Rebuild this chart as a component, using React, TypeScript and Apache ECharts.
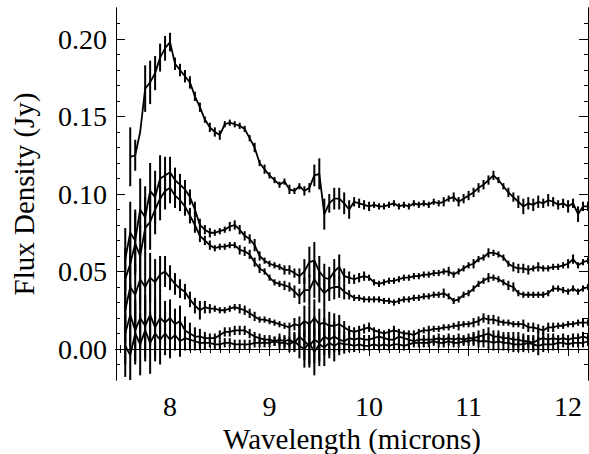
import React, { useEffect, useRef } from "react";
import * as echarts from "echarts";

// Wavelength grid (microns)
const WAVE = [
  7.55, 7.6, 7.65, 7.7, 7.75, 7.8, 7.85, 7.9, 7.95, 8.0,
  8.05, 8.1, 8.15, 8.2, 8.25, 8.3, 8.35, 8.4, 8.45, 8.5,
  8.55, 8.6, 8.65, 8.7, 8.75, 8.8, 8.85, 8.9, 8.95, 9.0,
  9.05, 9.1, 9.15, 9.2, 9.25, 9.3, 9.35, 9.4, 9.45, 9.5,
  9.55, 9.6, 9.65, 9.7, 9.75, 9.8, 9.85, 9.9, 9.95, 10.0,
  10.05, 10.1, 10.15, 10.2, 10.25, 10.3, 10.35, 10.4, 10.45, 10.5,
  10.55, 10.6, 10.65, 10.7, 10.75, 10.8, 10.85, 10.9, 10.95, 11.0,
  11.05, 11.1, 11.15, 11.2, 11.25, 11.3, 11.35, 11.4, 11.45, 11.5,
  11.55, 11.6, 11.65, 11.7, 11.75, 11.8, 11.85, 11.9, 11.95, 12.0,
  12.05, 12.1, 12.15, 12.2,
];

// Top spectrum
const FLUX_A = [
  null, 0.124, 0.125, 0.140, 0.168, 0.172, 0.178, 0.188, 0.194, 0.198,
  0.184, 0.180, 0.176, 0.172, 0.163, 0.156, 0.148, 0.143, 0.140, 0.138,
  0.145, 0.146, 0.145, 0.144, 0.142, 0.136, 0.130, 0.120, 0.116, 0.112,
  0.109, 0.106, 0.108, 0.103, 0.102, 0.105, 0.102, 0.104, 0.112, 0.113,
  0.087, 0.094, 0.097, 0.097, 0.094, 0.090, 0.095, 0.094, 0.093, 0.092,
  0.093, 0.092, 0.092, 0.093, 0.094, 0.092, 0.093, 0.092, 0.094, 0.093,
  0.094, 0.093, 0.095, 0.094, 0.095, 0.097, 0.098, 0.095, 0.097, 0.099,
  0.101, 0.104, 0.106, 0.109, 0.112, 0.109, 0.105, 0.101, 0.098, 0.095,
  0.092, 0.094, 0.093, 0.095, 0.094, 0.096, 0.095, 0.093, 0.094, 0.092,
  0.094, 0.087, 0.092, 0.092,
];
const ERR_A = [
  0, 0.019, 0.010, 0, 0.015, 0.014, 0.011, 0.009, 0.008, 0.006,
  0.004, 0.004, 0.004, 0.004, 0.003, 0.003, 0.002, 0.003, 0.003, 0.003,
  0.002, 0.002, 0.002, 0.002, 0.002, 0.002, 0.003, 0.002, 0.003, 0.002,
  0.002, 0.002, 0.002, 0.003, 0.002, 0.002, 0.003, 0.003, 0.007, 0.010,
  0.010, 0.006, 0.007, 0.007, 0.007, 0.006, 0.003, 0.003, 0.003, 0.003,
  0.002, 0.002, 0.002, 0.002, 0.002, 0.002, 0.002, 0.002, 0.002, 0.002,
  0.002, 0.002, 0.002, 0.002, 0.003, 0.002, 0.003, 0.003, 0.003, 0.003,
  0.003, 0.003, 0.003, 0.003, 0.003, 0.002, 0.002, 0.003, 0.003, 0.004,
  0.005, 0.004, 0.004, 0.004, 0.003, 0.004, 0.003, 0.003, 0.003, 0.004,
  0.003, 0.005, 0.003, 0.003,
];

const FLUX_B = [
  0.058, 0.075, 0.070, 0.090, 0.085, 0.102, 0.098, 0.110, 0.112, 0.114,
  0.109, 0.106, 0.103, 0.098, 0.090, 0.080, 0.077, 0.075, 0.075, 0.076,
  0.077, 0.079, 0.080, 0.077, 0.073, 0.071, 0.067, 0.060, 0.057, 0.055,
  0.054, 0.053, 0.051, 0.051, 0.049, 0.047, 0.050, 0.056, 0.057, 0.050,
  0.046, 0.045, 0.050, 0.053, 0.047, 0.046, 0.045, 0.046, 0.047, 0.046,
  0.043, 0.042, 0.043, 0.044, 0.044, 0.045, 0.046, 0.046, 0.047, 0.047,
  0.048, 0.048, 0.049, 0.049, 0.050, 0.050, 0.048, 0.050, 0.052, 0.054,
  0.055, 0.058, 0.059, 0.062, 0.062, 0.061, 0.059, 0.055, 0.053, 0.052,
  0.052, 0.051, 0.052, 0.053, 0.052, 0.052, 0.053, 0.053, 0.054, 0.055,
  0.058, 0.054, 0.056, 0.057,
];
const ERR_B = [
  0.020, 0.020, 0.020, 0.020, 0.020, 0.018, 0.017, 0.015, 0.012, 0.010,
  0.008, 0.007, 0.006, 0.005, 0.005, 0.004, 0.003, 0.003, 0.002, 0.002,
  0.002, 0.003, 0.003, 0.003, 0.003, 0.003, 0.004, 0.003, 0.002, 0.002,
  0.002, 0.002, 0.003, 0.003, 0.003, 0.005, 0.008, 0.010, 0.012, 0.010,
  0.009, 0.008, 0.008, 0.008, 0.005, 0.004, 0.003, 0.003, 0.003, 0.002,
  0.002, 0.002, 0.002, 0.002, 0.002, 0.002, 0.002, 0.002, 0.002, 0.002,
  0.002, 0.002, 0.002, 0.002, 0.002, 0.003, 0.002, 0.002, 0.002, 0.002,
  0.003, 0.002, 0.002, 0.003, 0.002, 0.002, 0.002, 0.002, 0.003, 0.003,
  0.003, 0.003, 0.002, 0.003, 0.002, 0.002, 0.002, 0.002, 0.002, 0.003,
  0.003, 0.002, 0.002, 0.002,
];

const FLUX_C = [
  0.045, 0.055, 0.068, 0.060, 0.078, 0.082, 0.090, 0.097, 0.102, 0.104,
  0.099, 0.096, 0.092, 0.086, 0.080, 0.073, 0.070, 0.067, 0.065, 0.066,
  0.066, 0.067, 0.067, 0.064, 0.063, 0.061, 0.056, 0.052, 0.050, 0.046,
  0.043, 0.042, 0.041, 0.040, 0.037, 0.034, 0.038, 0.038, 0.045, 0.040,
  0.036, 0.039, 0.040, 0.040, 0.037, 0.035, 0.033, 0.033, 0.032, 0.032,
  0.032, 0.032, 0.031, 0.031, 0.030, 0.031, 0.032, 0.032, 0.033, 0.033,
  0.034, 0.034, 0.035, 0.035, 0.036, 0.034, 0.031, 0.032, 0.035, 0.036,
  0.039, 0.042, 0.044, 0.046, 0.046, 0.045, 0.043, 0.041, 0.040, 0.036,
  0.035, 0.035, 0.035, 0.035, 0.035, 0.036, 0.039, 0.039, 0.038, 0.037,
  0.039, 0.037, 0.039, 0.040,
];
const ERR_C = [
  0.020, 0.020, 0.020, 0.020, 0.020, 0.018, 0.016, 0.014, 0.012, 0.010,
  0.008, 0.007, 0.006, 0.005, 0.005, 0.004, 0.003, 0.003, 0.002, 0.002,
  0.002, 0.002, 0.002, 0.003, 0.003, 0.003, 0.003, 0.003, 0.002, 0.002,
  0.002, 0.002, 0.003, 0.003, 0.004, 0.005, 0.008, 0.010, 0.012, 0.010,
  0.009, 0.008, 0.008, 0.007, 0.005, 0.003, 0.002, 0.002, 0.002, 0.002,
  0.002, 0.002, 0.002, 0.002, 0.002, 0.002, 0.002, 0.002, 0.002, 0.002,
  0.002, 0.002, 0.002, 0.002, 0.003, 0.002, 0.002, 0.002, 0.002, 0.002,
  0.002, 0.002, 0.002, 0.003, 0.002, 0.002, 0.002, 0.003, 0.003, 0.002,
  0.002, 0.002, 0.002, 0.002, 0.002, 0.002, 0.002, 0.002, 0.002, 0.002,
  0.002, 0.002, 0.002, 0.002,
];

const FLUX_D = [
  0.025, 0.040, 0.035, 0.045, 0.040, 0.046, 0.043, 0.048, 0.050, 0.046,
  0.042, 0.039, 0.037, 0.032, 0.028, 0.025, 0.027, 0.026, 0.026, 0.025,
  0.025, 0.026, 0.027, 0.026, 0.025, 0.023, 0.021, 0.019, 0.019, 0.018,
  0.017, 0.016, 0.015, 0.014, 0.016, 0.015, 0.018, 0.016, 0.020, 0.016,
  0.017, 0.015, 0.015, 0.016, 0.014, 0.012, 0.011, 0.012, 0.013, 0.014,
  0.012, 0.011, 0.010, 0.011, 0.012, 0.011, 0.010, 0.010, 0.009, 0.011,
  0.012, 0.012, 0.013, 0.013, 0.014, 0.014, 0.015, 0.015, 0.016, 0.016,
  0.017, 0.018, 0.020, 0.019, 0.019, 0.018, 0.017, 0.017, 0.016, 0.016,
  0.016, 0.014, 0.014, 0.013, 0.012, 0.014, 0.014, 0.015, 0.015, 0.016,
  0.016, 0.017, 0.017, 0.017,
];
const ERR_D = [
  0.020, 0.020, 0.020, 0.020, 0.018, 0.016, 0.015, 0.012, 0.010, 0.008,
  0.007, 0.006, 0.005, 0.005, 0.005, 0.006, 0.004, 0.003, 0.002, 0.002,
  0.002, 0.002, 0.002, 0.003, 0.003, 0.003, 0.003, 0.002, 0.002, 0.002,
  0.002, 0.002, 0.002, 0.003, 0.004, 0.006, 0.010, 0.012, 0.012, 0.010,
  0.010, 0.009, 0.008, 0.006, 0.004, 0.003, 0.003, 0.003, 0.003, 0.003,
  0.002, 0.002, 0.002, 0.002, 0.003, 0.002, 0.002, 0.002, 0.003, 0.002,
  0.002, 0.003, 0.002, 0.002, 0.002, 0.002, 0.002, 0.003, 0.002, 0.002,
  0.003, 0.003, 0.003, 0.003, 0.003, 0.003, 0.002, 0.002, 0.002, 0.002,
  0.003, 0.003, 0.003, 0.003, 0.003, 0.003, 0.003, 0.002, 0.002, 0.002,
  0.002, 0.002, 0.003, 0.002,
];

const FLUX_E = [
  0.010, 0.022, 0.012, 0.020, 0.015, 0.022, 0.014, 0.020, 0.017, 0.020,
  0.016, 0.018, 0.012, 0.010, 0.008, 0.008, 0.007, 0.007, 0.007, 0.009,
  0.011, 0.011, 0.012, 0.012, 0.012, 0.010, 0.008, 0.007, 0.006, 0.006,
  0.005, 0.006, 0.005, 0.006, 0.004, 0.008, 0.005, 0.002, 0.006, 0.004,
  0.008, 0.006, 0.008, 0.006, 0.005, 0.007, 0.006, 0.007, 0.006, 0.006,
  0.007, 0.008, 0.007, 0.006, 0.006, 0.008, 0.007, 0.006, 0.005, 0.006,
  0.006, 0.006, 0.006, 0.007, 0.006, 0.007, 0.006, 0.007, 0.006, 0.007,
  0.007, 0.008, 0.009, 0.010, 0.008, 0.008, 0.007, 0.007, 0.006, 0.006,
  0.005, 0.005, 0.004, 0.006, 0.007, 0.006, 0.007, 0.006, 0.007, 0.006,
  0.007, 0.007, 0.008, 0.007,
];
const ERR_E = [
  0.020, 0.020, 0.020, 0.020, 0.020, 0.020, 0.018, 0.016, 0.014, 0.012,
  0.010, 0.010, 0.009, 0.007, 0.006, 0.005, 0.004, 0.003, 0.003, 0.003,
  0.003, 0.003, 0.003, 0.003, 0.003, 0.003, 0.003, 0.003, 0.003, 0.003,
  0.003, 0.004, 0.004, 0.005, 0.006, 0.008, 0.012, 0.014, 0.015, 0.012,
  0.012, 0.010, 0.010, 0.008, 0.006, 0.005, 0.004, 0.004, 0.003, 0.003,
  0.003, 0.003, 0.003, 0.003, 0.003, 0.003, 0.003, 0.003, 0.003, 0.003,
  0.003, 0.003, 0.003, 0.003, 0.003, 0.003, 0.003, 0.003, 0.003, 0.003,
  0.004, 0.004, 0.004, 0.004, 0.004, 0.004, 0.004, 0.004, 0.005, 0.005,
  0.005, 0.004, 0.005, 0.006, 0.004, 0.004, 0.003, 0.003, 0.003, 0.003,
  0.003, 0.003, 0.003, 0.003,
];

const FLUX_F = [
  0.002, -0.004, 0.010, 0.003, 0.012, 0.004, 0.010, 0.006, 0.010, 0.006,
  0.009, 0.005, 0.007, 0.006, 0.005, 0.004, 0.004, 0.004, 0.003, 0.003,
  0.004, 0.004, 0.003, 0.003, 0.003, 0.003, 0.004, 0.004, 0.004, 0.004,
  0.005, 0.004, 0.004, 0.003, 0.005, 0.002, 0.000, 0.004, -0.002, 0.003,
  0.001, 0.004, 0.002, 0.004, 0.003, 0.003, 0.002, 0.003, 0.002, 0.002,
  0.003, 0.002, 0.003, 0.002, 0.003, 0.003, 0.002, 0.003, 0.004, 0.004,
  0.004, 0.004, 0.005, 0.004, 0.004, 0.005, 0.004, 0.004, 0.005, 0.005,
  0.006, 0.005, 0.005, 0.005, 0.004, 0.005, 0.004, 0.004, 0.003, 0.003,
  0.003, 0.004, 0.003, 0.002, 0.003, 0.003, 0.003, 0.004, 0.004, 0.003,
  0.004, 0.004, 0.004, 0.005,
];
const ERR_F = [
  0.020, 0.020, 0.020, 0.020, 0.020, 0.020, 0.018, 0.016, 0.014, 0.012,
  0.010, 0.010, 0.008, 0.007, 0.006, 0.005, 0.004, 0.003, 0.003, 0.003,
  0.003, 0.003, 0.003, 0.003, 0.003, 0.003, 0.003, 0.003, 0.003, 0.003,
  0.003, 0.004, 0.004, 0.005, 0.006, 0.008, 0.012, 0.014, 0.015, 0.014,
  0.012, 0.010, 0.010, 0.008, 0.006, 0.005, 0.004, 0.004, 0.003, 0.003,
  0.003, 0.003, 0.003, 0.003, 0.003, 0.003, 0.003, 0.003, 0.003, 0.003,
  0.003, 0.003, 0.003, 0.003, 0.003, 0.003, 0.003, 0.003, 0.003, 0.003,
  0.004, 0.004, 0.004, 0.005, 0.005, 0.005, 0.005, 0.005, 0.005, 0.005,
  0.005, 0.005, 0.005, 0.006, 0.005, 0.004, 0.004, 0.004, 0.003, 0.003,
  0.003, 0.003, 0.003, 0.003,
];

const X_MAJOR = [8, 9, 10, 11, 12];
const X_MINOR = [
  7.5, 7.6, 7.7, 7.8, 7.9, 8.1, 8.2, 8.3, 8.4, 8.5, 8.6, 8.7, 8.8, 8.9,
  9.1, 9.2, 9.3, 9.4, 9.5, 9.6, 9.7, 9.8, 9.9, 10.1, 10.2, 10.3, 10.4, 10.5,
  10.6, 10.7, 10.8, 10.9, 11.1, 11.2, 11.3, 11.4, 11.5, 11.6, 11.7, 11.8,
  11.9, 12.1,
];
const Y_MAJOR = [0, 0.05, 0.1, 0.15, 0.2];
const Y_MINOR = [
  -0.01, 0.01, 0.02, 0.03, 0.04, 0.06, 0.07, 0.08, 0.09, 0.11, 0.12, 0.13,
  0.14, 0.16, 0.17, 0.18, 0.19, 0.21,
];

const SPECTRA = [
  { flux: FLUX_A, err: ERR_A },
  { flux: FLUX_B, err: ERR_B },
  { flux: FLUX_C, err: ERR_C },
  { flux: FLUX_D, err: ERR_D },
  { flux: FLUX_E, err: ERR_E },
  { flux: FLUX_F, err: ERR_F },
];

const X_MIN = 7.457;
const X_MAX = 12.2;
const Y_MIN = -0.02;
const Y_MAX = 0.22;

const FONT = '"Liberation Serif", "DejaVu Serif", serif';

export default function App() {
  const ref = useRef<HTMLDivElement>(null);

  useEffect(() => {
    if (!ref.current) return;
    const chart = echarts.init(ref.current, undefined, { renderer: "svg" });

    const axisLine = { show: true, lineStyle: { color: "#000", width: 1 } };
    const tickStyle = { color: "#000", width: 1 };

    const makeX = (pos: string, values: number[], len: number, labels: boolean) => ({
      type: "value",
      position: pos,
      min: X_MIN,
      max: X_MAX,
      splitLine: { show: false },
      axisLine,
      axisTick: { show: true, inside: true, length: len, customValues: values, lineStyle: tickStyle },
      axisLabel: labels
        ? { show: true, customValues: values, color: "#000", fontSize: 28, fontFamily: FONT, margin: 12 }
        : { show: false },
    });
    const makeY = (pos: string, values: number[], len: number, labels: boolean) => ({
      type: "value",
      position: pos,
      min: Y_MIN,
      max: Y_MAX,
      splitLine: { show: false },
      axisLine,
      axisTick: { show: true, inside: true, length: len, customValues: values, lineStyle: tickStyle },
      axisLabel: labels
        ? {
            show: true,
            customValues: values,
            color: "#000",
            fontSize: 28,
            fontFamily: FONT,
            margin: 9,
            formatter: (v: number) => v.toFixed(2),
          }
        : { show: false },
    });

    const xMain: any = makeX("bottom", X_MAJOR, 7, true);
    xMain.name = "Wavelength (microns)";
    xMain.nameLocation = "middle";
    xMain.nameGap = 43;
    xMain.nameTextStyle = { color: "#000", fontSize: 29, fontFamily: FONT };

    const yMain: any = makeY("left", Y_MAJOR, 9, true);
    yMain.name = "Flux Density (Jy)";
    yMain.nameLocation = "middle";
    yMain.nameGap = 78;
    yMain.nameTextStyle = { color: "#000", fontSize: 29, fontFamily: FONT };

    const series: any[] = [];
    SPECTRA.forEach((s) => {
      const lineData = WAVE.map((w, i) => [w, s.flux[i] === null ? "-" : s.flux[i]]);
      const errData: number[][] = [];
      WAVE.forEach((w, i) => {
        const f = s.flux[i];
        const e = s.err[i];
        if (f !== null && e > 0) errData.push([w, f as number, e]);
      });
      series.push({
        type: "line",
        data: lineData,
        xAxisIndex: 0,
        yAxisIndex: 0,
        showSymbol: false,
        connectNulls: false,
        lineStyle: { color: "#000", width: 1.8 },
        itemStyle: { color: "#000" },
        silent: true,
        z: 3,
      });
      series.push({
        type: "custom",
        data: errData,
        xAxisIndex: 0,
        yAxisIndex: 0,
        clip: true,
        silent: true,
        z: 4,
        encode: { x: 0, y: 1 },
        renderItem: (_params: any, api: any) => {
          const x = api.value(0);
          const y = api.value(1);
          const e = api.value(2);
          const p1 = api.coord([x, y - e]);
          const p2 = api.coord([x, y + e]);
          return {
            type: "line",
            shape: { x1: p1[0], y1: p1[1], x2: p2[0], y2: p2[1] },
            style: { stroke: "#000", lineWidth: 2 },
          };
        },
      });
    });

    chart.setOption({
      animation: false,
      backgroundColor: "#fff",
      grid: { left: 116, right: 1, top: 8, bottom: 74, containLabel: false, outerBoundsMode: "none" },
      xAxis: [
        xMain,
        makeX("bottom", X_MINOR, 4, false),
        makeX("top", X_MAJOR, 7, false),
        makeX("top", X_MINOR, 4, false),
      ],
      yAxis: [
        yMain,
        makeY("left", Y_MINOR, 4, false),
        makeY("right", Y_MAJOR, 9, false),
        makeY("right", Y_MINOR, 4, false),
      ],
      series,
    });

    return () => chart.dispose();
  }, []);

  return (
    <div
      ref={ref}
      style={{ position: "fixed", left: 0, top: 0, width: 589, height: 454, background: "#fff" }}
    />
  );
}
